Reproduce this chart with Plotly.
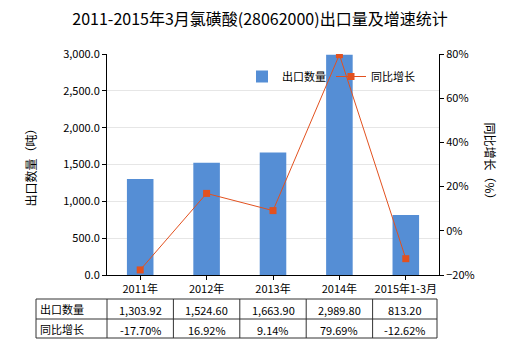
import plotly.graph_objects as go

categories = ["2011年", "2012年", "2013年", "2014年", "2015年1-3月"]
export_qty = [1303.92, 1524.60, 1663.90, 2989.80, 813.20]
growth_pct = [-17.70, 16.92, 9.14, 79.69, -12.62]
qty_labels = ["1,303.92", "1,524.60", "1,663.90", "2,989.80", "813.20"]
growth_labels = ["-17.70%", "16.92%", "9.14%", "79.69%", "-12.62%"]
row_names = ["出口数量", "同比增长"]

FONT = "Microsoft YaHei, Noto Sans CJK SC, sans-serif"
BAR_C = "#558ED5"
LINE_C = "#E2511F"

W, H = 520, 350
L, R, T, B = 107, 439, 54, 275

fig = go.Figure()
fig.add_trace(go.Bar(x=categories, y=export_qty, name="出口数量",
                     marker=dict(color=BAR_C, line=dict(width=0)), width=0.4,
                     yaxis="y"))
fig.add_trace(go.Scatter(x=categories, y=growth_pct, name="同比增长",
                         mode="lines+markers", yaxis="y2",
                         line=dict(color=LINE_C, width=1),
                         marker=dict(symbol="square", size=7, color=LINE_C)))

def px_x(x):
    return (x - L) / (R - L)

def px_y(y):
    return (B - y) / (B - T)

fig.update_layout(
    width=W, height=H,
    margin=dict(l=L, r=W - R, t=T, b=H - B),
    plot_bgcolor="white", paper_bgcolor="white",
    font=dict(family=FONT, size=11, color="#000"),
    title=dict(text="2011-2015年3月氯磺酸(28062000)出口量及增速统计",
               x=0.5, xanchor="center", y=0.945, yanchor="middle",
               font=dict(size=16, color="#000")),
    showlegend=True,
    legend=dict(orientation="h", x=px_x(242), xanchor="left",
                y=px_y(62), yanchor="top",
                font=dict(size=11), bgcolor="rgba(0,0,0,0)",
                itemwidth=30, tracegroupgap=0),
    bargap=0.6,
    xaxis=dict(showline=True, linecolor="#000", linewidth=1,
               ticks="outside", ticklen=4, tickcolor="#000",
               showgrid=False, tickfont=dict(size=11)),
    yaxis=dict(range=[0, 3000], dtick=500, tickformat=",.1f",
               showline=True, linecolor="#000", linewidth=1,
               ticks="outside", ticklen=4, tickcolor="#000",
               showgrid=True, gridcolor="#E6E6E6", zeroline=False,
               tickfont=dict(size=11)),
    yaxis2=dict(range=[-20, 80], dtick=20, ticksuffix="%",
                overlaying="y", side="right",
                showline=True, linecolor="#000", linewidth=1,
                ticks="outside", ticklen=4, tickcolor="#000",
                showgrid=False, zeroline=False, tickfont=dict(size=11)),
)

# axis titles
fig.add_annotation(text="出口数量（吨）", xref="paper", yref="paper",
                   x=px_x(30), y=0.5, textangle=-90, showarrow=False,
                   xanchor="center", yanchor="middle", font=dict(size=12))
fig.add_annotation(text="同比增长（%）", xref="paper", yref="paper",
                   x=px_x(490), y=0.5, textangle=90, showarrow=False,
                   xanchor="center", yanchor="middle", font=dict(size=12))

# data table below chart
tbl_left, tbl_right = 36, 437
rows_y = [299, 319, 338]
col_edges = [tbl_left, L] + [L + (R - L) * (i + 1) / 5 for i in range(5)]
col_edges[-1] = tbl_right
line_style = dict(color="#333", width=1)
for yy in rows_y:
    fig.add_shape(type="line", xref="paper", yref="paper",
                  x0=px_x(tbl_left), x1=px_x(tbl_right), y0=px_y(yy), y1=px_y(yy),
                  line=line_style)
for xx in col_edges:
    fig.add_shape(type="line", xref="paper", yref="paper",
                  x0=px_x(xx), x1=px_x(xx), y0=px_y(rows_y[0]), y1=px_y(rows_y[-1]),
                  line=line_style)

row_vals = [qty_labels, growth_labels]
for r in range(2):
    yc = (rows_y[r] + rows_y[r + 1]) / 2
    fig.add_annotation(text=row_names[r], xref="paper", yref="paper",
                       x=px_x(tbl_left + 2), y=px_y(yc), xanchor="left",
                       yanchor="middle", showarrow=False, font=dict(size=11))
    for i, v in enumerate(row_vals[r]):
        xc = (col_edges[i + 1] + col_edges[i + 2]) / 2
        fig.add_annotation(text=v, xref="paper", yref="paper",
                           x=px_x(xc), y=px_y(yc + 1), xanchor="center",
                           yanchor="middle", showarrow=False, font=dict(size=11))

fig.write_html("out.html")
